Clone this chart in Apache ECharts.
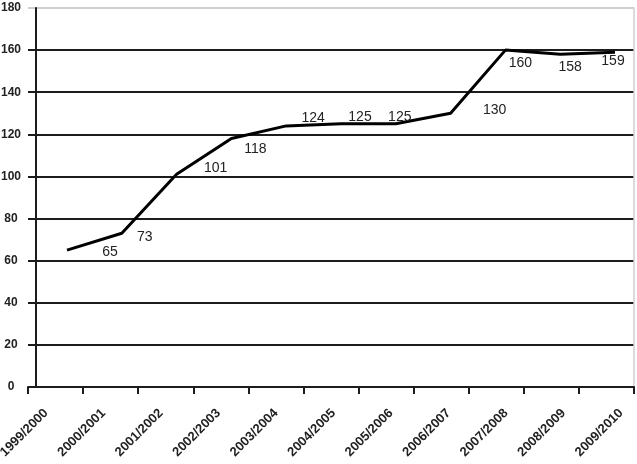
<!DOCTYPE html>
<html>
<head>
<meta charset="utf-8">
<script src="https://cdn.jsdelivr.net/npm/echarts@6/dist/echarts.min.js"></script>
<style>
  html, body { margin: 0; background: #fff; }
  #chart { width: 637px; height: 464px; }
</style>
</head>
<body>
<div id="chart"></div>
<script>
// season labels on the x axis
const categories = ['1999/2000', '2000/2001', '2001/2002', '2002/2003', '2003/2004', '2004/2005',
  '2005/2006', '2006/2007', '2007/2008', '2008/2009', '2009/2010'];
// values of the line
const values = [65, 73, 101, 118, 124, 125, 125, 130, 160, 158, 159];
// y ticks
const yMin = 0, yMax = 180, yStep = 20;

// where each value label sits relative to its point (style only)
const labelShift = [[43, 2], [23, 4], [39, -6], [24, 11], [27, -8], [19, -7], [4, -7], [44, -3], [15, 13], [10, 13], [-2, 9]];

const font = "'Liberation Sans', Arial, sans-serif";
const ink = '#1c1c1c';
const gridTop = 8, gridBottom = 77;

// dark grid lines, light top border line
const splitColors = [];
for (let v = yMin; v < yMax; v += yStep) splitColors.push(ink);
splitColors.push('#cfcfcf');

const chart = echarts.init(document.getElementById('chart'));
chart.setOption({
  animation: false,
  backgroundColor: '#fff',
  grid: [
    { left: 28, right: 3, top: gridTop, bottom: gridBottom, outerBoundsMode: 'none' },   // frame, ticks, grid lines
    { left: 67, right: 22, top: gridTop, bottom: gridBottom, outerBoundsMode: 'none' },  // the line
    { left: 46, right: 16, top: gridTop, bottom: gridBottom, outerBoundsMode: 'none' }   // x labels
  ],
  xAxis: [
    {
      gridIndex: 0, type: 'category', data: categories, boundaryGap: true,
      axisLine: { lineStyle: { color: ink, width: 2 } },
      axisTick: { show: true, interval: 0, length: 7, lineStyle: { color: ink, width: 2 } },
      axisLabel: { show: false }
    },
    { gridIndex: 1, type: 'category', data: categories, boundaryGap: false, show: false },
    {
      gridIndex: 2, type: 'category', data: categories, boundaryGap: false,
      axisLine: { show: false }, axisTick: { show: false },
      axisLabel: {
        interval: 0, rotate: 45, margin: 24,
        fontFamily: font, fontSize: 13, fontWeight: 'bold', color: '#222'
      }
    }
  ],
  yAxis: [
    {
      gridIndex: 0, type: 'value', min: yMin, max: yMax, interval: yStep, offset: -8,
      axisLine: { show: true, lineStyle: { color: ink, width: 2 } },
      axisTick: { show: false },
      axisLabel: { margin: 25, align: 'center', fontFamily: font, fontSize: 12, fontWeight: 'bold', color: '#222' },
      splitLine: { show: true, lineStyle: { color: splitColors, width: 2 } }
    },
    {
      gridIndex: 0, type: 'value', position: 'right', min: yMin, max: yMax,
      axisLine: { show: true, lineStyle: { color: '#cfcfcf', width: 1.5 } },
      axisTick: { show: false }, axisLabel: { show: false }, splitLine: { show: false }
    },
    { gridIndex: 1, type: 'value', min: yMin, max: yMax, show: false },
    { gridIndex: 2, type: 'value', min: yMin, max: yMax, show: false }
  ],
  series: [{
    type: 'line',
    xAxisIndex: 1,
    yAxisIndex: 2,
    symbol: 'circle',
    symbolSize: 0,
    lineStyle: { color: '#000', width: 3 },
    itemStyle: { color: '#000' },
    label: {
      show: true, position: 'inside',
      fontFamily: font, fontSize: 14, color: '#222'
    },
    data: values.map((v, i) => ({ value: v, label: { offset: labelShift[i] } }))
  }]
});
</script>
</body>
</html>
